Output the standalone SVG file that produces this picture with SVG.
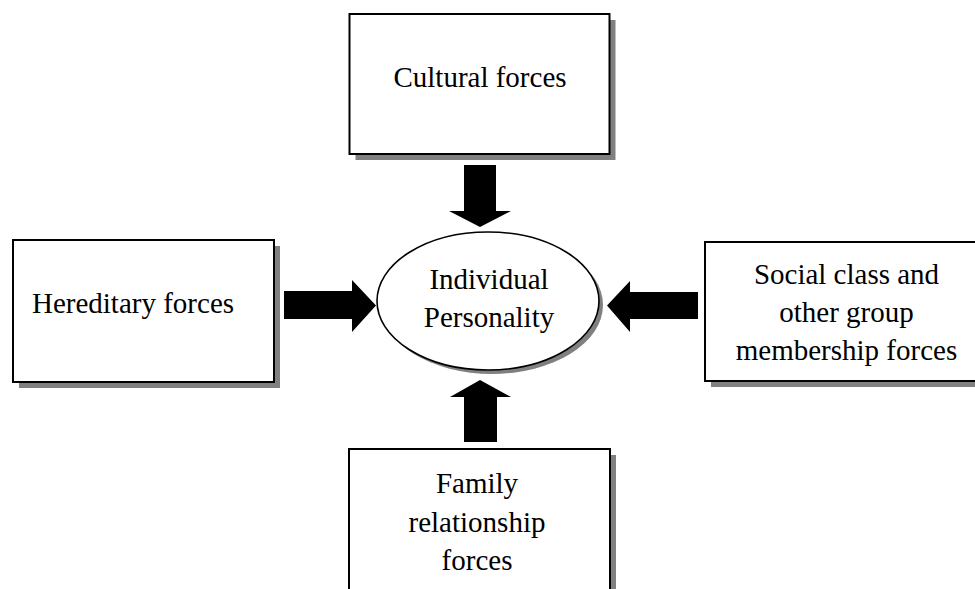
<svg xmlns="http://www.w3.org/2000/svg" width="975" height="589" viewBox="0 0 975 589">
  <style>
    .box { fill: #ffffff; stroke: #000000; stroke-width: 2; }
    .shadow { fill: #808080; stroke: none; }
    .label { font-family: "Liberation Serif", "Times New Roman", serif; font-size: 29px; fill: #000000; text-anchor: middle; }
    .arrow { fill: #000000; stroke: none; }
  </style>
  <rect width="975" height="589" fill="#ffffff"/>

  <g id="cultural">
    <rect class="shadow" x="355.5" y="20" width="260" height="140"/>
    <rect class="box" x="349.5" y="14" width="260" height="140"/>
    <text class="label" x="480" y="87">Cultural forces</text>
  </g>

  <g id="hereditary">
    <rect class="shadow" x="19" y="246" width="261" height="142"/>
    <rect class="box" x="13" y="240" width="261" height="142"/>
    <text class="label" x="133" y="313">Hereditary forces</text>
  </g>

  <g id="social">
    <rect class="shadow" x="711" y="248" width="290" height="139"/>
    <rect class="box" x="705" y="242" width="290" height="139"/>
    <text class="label" x="846.5" y="284">Social class and</text>
    <text class="label" x="846.5" y="322">other group</text>
    <text class="label" x="846.5" y="360">membership forces</text>
  </g>

  <g id="family">
    <rect class="shadow" x="355" y="455" width="261" height="160"/>
    <rect class="box" x="349" y="449" width="261" height="160"/>
    <text class="label" x="477" y="493">Family</text>
    <text class="label" x="477" y="532">relationship</text>
    <text class="label" x="477" y="570">forces</text>
  </g>

  <g id="personality">
    <ellipse class="shadow" cx="492" cy="305" rx="111" ry="69"/>
    <ellipse cx="488" cy="301" rx="111" ry="69" fill="#ffffff" stroke="#000000" stroke-width="1.6"/>
    <text class="label" x="489" y="289">Individual</text>
    <text class="label" x="489" y="327">Personality</text>
  </g>

  <g id="connectors">
    <polygon class="arrow" points="464,165 496,165 496,211 511,211 480,227 449,211 464,211"/>
    <polygon class="arrow" points="284,291 352,291 352,280 376,305.5 352,332 352,319 284,319"/>
    <polygon class="arrow" points="698,292 630,292 630,281 607,305.5 630,332 630,319 698,319"/>
    <polygon class="arrow" points="464,442 497,442 497,397 511,397 480,380 450,397 464,397"/>
  </g>
</svg>
